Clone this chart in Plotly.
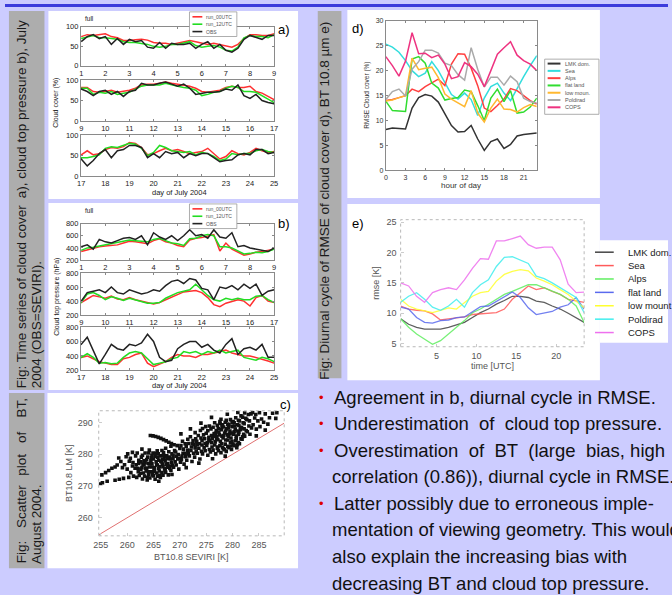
import plotly.graph_objects as go

W, H = 672, 595
FONT = "Liberation Sans, Arial, sans-serif"

# ---------------- data ----------------
# panel a/b: 6-hourly values, 1 July 00 UTC .. 25 July 00 UTC
days = [1 + 0.25 * i for i in range(97)]

cc_run00 = [75, 80, 78, 80, 82, 75, 72, 65, 65, 67, 68, 66, 60, 58, 58, 55, 58, 62, 65, 62, 58, 55, 58, 55, 52, 48, 55, 70, 80, 80, 78, 78, 82,
            82, 72, 70, 72, 75, 70, 72, 75, 80, 88, 90, 90, 92, 95, 92, 90, 88, 85, 80, 72, 70, 72, 75, 82, 85, 82, 82, 85, 72, 68, 60, 52,
            62, 52, 55, 65, 70, 68, 72, 82, 80, 70, 52, 55, 62, 68, 62, 65, 60, 55, 58, 60, 68, 55, 42, 48, 62, 55, 52, 58, 68, 62, 58, 60]
cc_run12 = [70, 75, 78, 72, 72, 70, 68, 62, 60, 60, 58, 55, 50, 48, 50, 55, 55, 58, 62, 52, 48, 50, 52, 48, 40, 38, 48, 72, 78, 75, 75, 72, 80,
            80, 65, 70, 68, 72, 65, 68, 70, 78, 85, 88, 88, 88, 92, 88, 85, 82, 80, 75, 62, 65, 70, 72, 80, 85, 82, 72, 72, 70, 62, 52, 45,
            45, 48, 52, 68, 72, 70, 75, 80, 78, 68, 50, 58, 75, 70, 62, 60, 58, 60, 52, 58, 55, 48, 38, 42, 55, 52, 55, 55, 62, 65, 60, 58]
cc_obs = [62, 75, 80, 70, 75, 55, 70, 55, 68, 62, 65, 48, 45, 60, 45, 58, 55, 55, 58, 45, 55, 62, 45, 55, 40, 35, 45, 68, 78, 72, 68, 78, 78,
          72, 62, 72, 75, 65, 72, 60, 72, 75, 92, 88, 88, 92, 95, 90, 85, 90, 80, 65, 68, 70, 70, 72, 78, 75, 88, 62, 55, 65, 50, 45, 42,
          25, 38, 55, 65, 45, 62, 65, 75, 75, 70, 45, 55, 45, 60, 55, 58, 45, 55, 50, 55, 55, 45, 35, 38, 40, 52, 55, 52, 65, 65, 55, 58]

ctp_run00 = [340, 370, 390, 420, 430, 440, 450, 480, 510, 500, 490, 470, 520, 550, 500, 480, 440, 420, 530, 560, 570, 600, 620, 350, 480, 380, 330, 280, 300, 330, 340, 360, 380,
             430, 480, 460, 440, 470, 430, 420, 450, 420, 400, 380, 360, 380, 420, 460, 500, 530, 540, 550, 520, 450, 350, 320, 370, 400, 420, 400, 330, 450, 480, 400, 380,
             400, 360, 320, 300, 280, 280, 360, 380, 420, 440, 300, 250, 280, 320, 380, 420, 400, 400, 380, 420, 420, 440, 460, 480, 440, 420, 400, 400, 380, 360, 330, 300]
ctp_run12 = [360, 400, 410, 430, 440, 460, 480, 500, 530, 520, 510, 500, 540, 560, 520, 480, 470, 440, 550, 560, 600, 620, 600, 420, 420, 400, 350, 300, 310, 330, 320, 340, 380,
             500, 520, 480, 420, 460, 440, 410, 440, 420, 400, 370, 370, 380, 440, 480, 520, 540, 560, 640, 560, 480, 420, 400, 440, 420, 440, 420, 420, 470, 480, 420, 380,
             430, 380, 300, 310, 290, 300, 380, 440, 460, 440, 360, 280, 300, 320, 360, 380, 460, 440, 460, 420, 460, 440, 480, 440, 460, 480, 380, 360, 340, 380, 360, 320]
ctp_obs = [420, 450, 380, 540, 500, 480, 520, 560, 570, 540, 600, 450, 650, 580, 540, 600, 520, 600, 700, 600, 620, 560, 700, 580, 560, 650, 420, 440, 400, 380, 350, 340, 400,
           520, 540, 560, 520, 600, 520, 500, 560, 530, 500, 520, 560, 540, 620, 680, 700, 650, 720, 700, 580, 560, 420, 600, 580, 620, 560, 640, 580, 640, 480, 540, 560,
           660, 480, 290, 420, 560, 500, 480, 560, 540, 580, 700, 600, 380, 320, 340, 500, 560, 600, 600, 520, 560, 480, 440, 560, 640, 420, 500, 520, 480, 560, 380, 380]

row_ranges = [[1, 9], [9, 17], [17, 25]]

# panel c: (BT10.8 SEVIRI [K], BT10.8 LM [K]) pairs
bt_pairs = [
    (254.9, 270.6), (255.3, 271.0), (256.2, 271.5), (257.7, 271.8), (258.5, 272.1), (259.3, 272.4), (260.3, 272.7),
    (255.2, 273.5), (255.9, 274.2), (256.5, 274.9), (257.1, 275.6), (257.7, 276.0),
    (258.1, 276.6), (258.4, 278.8), (258.8, 277.7), (259.1, 275.8), (259.5, 276.7), (259.8, 279.2),
    (260.0, 275.3), (260.4, 277.8), (260.1, 280.1), (260.7, 274.2), (261.0, 276.3), (260.6, 278.7), (261.0, 280.6),
    (261.2, 273.1), (261.5, 275.6), (261.1, 277.4), (261.6, 279.5),
    (261.8, 272.7), (262.1, 274.5), (261.7, 276.7), (262.2, 278.1), (261.9, 280.4),
    (262.3, 273.3), (262.6, 275.3), (262.2, 277.1), (262.7, 279.1), (262.8, 281.6),
    (262.9, 272.2), (263.1, 274.1), (262.8, 275.8), (263.2, 277.9), (262.9, 279.7),
    (263.3, 273.1), (263.6, 274.7), (263.2, 276.6), (263.7, 278.3), (263.4, 280.4),
    (263.8, 271.9), (264.1, 273.6), (263.7, 275.6), (264.0, 277.1), (263.9, 279.1),
    (264.3, 272.5), (264.6, 274.5), (264.2, 276.0), (264.5, 278.0), (264.7, 279.6), (264.2, 281.3), (264.4, 285.9),
    (264.8, 273.5), (265.1, 275.0), (264.7, 277.0), (265.0, 278.5), (264.9, 280.4), (264.9, 285.8),
    (265.3, 272.1), (265.6, 274.1), (265.2, 275.7), (265.5, 277.6), (265.3, 279.4), (265.7, 281.1), (265.4, 285.6),
    (265.8, 273.1), (266.1, 274.7), (265.7, 276.6), (266.0, 278.1), (265.9, 280.1), (265.9, 285.3),
    (266.0, 271.5), (266.3, 272.7), (266.6, 274.2), (266.2, 276.1), (266.5, 277.6), (266.3, 279.5), (266.6, 281.2), (266.4, 285.0),
    (266.8, 273.4), (267.1, 275.4), (266.7, 276.9), (267.0, 278.9), (266.9, 280.5), (266.9, 284.6),
    (267.3, 274.3), (267.6, 275.9), (267.2, 277.9), (267.5, 279.5), (267.3, 281.9), (267.4, 284.2),
    (267.8, 273.5), (268.1, 275.5), (267.7, 277.1), (268.0, 279.1), (267.9, 280.8), (267.9, 283.8),
    (268.3, 274.9), (268.6, 276.5), (268.2, 278.5), (268.5, 280.1), (268.3, 282.5), (268.4, 283.4), (268.5, 273.6),
    (268.8, 275.9), (269.1, 277.6), (268.7, 279.6), (269.0, 281.2), (268.9, 283.0),
    (269.3, 276.6), (269.6, 278.5), (269.2, 280.7), (269.5, 282.7),
    (269.8, 275.3), (270.1, 277.5), (269.7, 279.9), (270.0, 281.8), (270.2, 286.4),
    (270.3, 278.3), (270.6, 280.3), (270.2, 282.7), (270.5, 284.1),
    (270.8, 276.9), (271.1, 279.2), (270.7, 281.6), (271.0, 283.3), (271.2, 275.8),
    (271.3, 278.1), (271.6, 280.1), (271.2, 282.5), (271.5, 284.7),
    (271.8, 279.5), (272.1, 281.2), (271.7, 283.4), (272.0, 285.5), (272.0, 288.0),
    (272.3, 277.7), (272.6, 280.3), (272.2, 282.3), (272.5, 284.3),
    (272.8, 279.1), (273.1, 280.9), (272.7, 283.1), (273.0, 284.9), (272.9, 286.8),
    (273.3, 280.3), (273.6, 281.9), (273.2, 284.1), (273.5, 285.9), (273.6, 277.2),
    (273.8, 278.5), (274.1, 280.9), (273.7, 283.3), (274.0, 285.1), (273.9, 287.5), (274.0, 289.8),
    (274.3, 280.1), (274.6, 282.1), (274.2, 284.3), (274.5, 286.1), (274.3, 288.1),
    (274.8, 281.1), (275.1, 282.8), (274.7, 284.9), (275.0, 286.6), (274.9, 288.7),
    (275.3, 279.7), (275.6, 281.5), (275.2, 283.6), (275.5, 285.3), (275.3, 287.4), (275.6, 288.9),
    (275.8, 280.7), (276.1, 282.3), (275.7, 284.3), (276.0, 285.9), (275.9, 288.0), (276.0, 291.6), (276.2, 278.6),
    (276.3, 281.3), (276.6, 282.9), (276.2, 284.9), (276.5, 286.5), (276.3, 288.5), (276.6, 289.9),
    (276.8, 280.1), (277.1, 281.9), (276.7, 283.9), (277.0, 285.5), (276.9, 287.5), (277.1, 289.1),
    (277.3, 281.1), (277.6, 282.7), (277.2, 284.6), (277.5, 286.1), (277.3, 288.1), (277.6, 289.7),
    (277.8, 280.5), (278.1, 282.1), (277.7, 284.1), (278.0, 285.7), (277.9, 287.7), (278.1, 289.3), (277.8, 291.0),
    (278.3, 281.7), (278.6, 283.2), (278.2, 285.1), (278.5, 286.7), (278.3, 288.6), (278.6, 290.1), (278.6, 279.4),
    (278.8, 280.9), (279.1, 282.5), (278.7, 284.5), (279.0, 286.1), (278.9, 288.0), (279.1, 289.5), (279.0, 292.6),
    (279.3, 282.1), (279.6, 283.7), (279.2, 285.7), (279.5, 287.3), (279.3, 289.3), (279.6, 290.9),
    (279.8, 281.5), (280.1, 283.1), (279.7, 285.1), (280.0, 286.7), (279.9, 288.7), (280.1, 290.3),
    (280.3, 282.7), (280.6, 284.3), (280.2, 286.3), (280.5, 287.9), (280.3, 289.9), (280.6, 291.5),
    (280.8, 282.1), (281.1, 283.7), (280.7, 285.7), (281.0, 287.3), (280.9, 289.3), (281.1, 290.7), (281.0, 293.2),
    (281.3, 283.3), (281.6, 284.9), (281.2, 286.9), (281.5, 288.5), (281.3, 290.5), (281.6, 292.1),
    (281.8, 284.7), (282.1, 286.3), (281.7, 288.3), (282.0, 289.9), (281.9, 291.7),
    (282.3, 285.7), (282.6, 287.5), (282.2, 289.6), (282.5, 291.3), (282.3, 293.0),
    (282.8, 287.1), (283.1, 288.9), (282.7, 290.9), (283.0, 292.5),
    (283.3, 286.3), (283.6, 288.3), (283.2, 290.5), (283.5, 292.7),
    (283.9, 289.3), (284.2, 291.4), (283.8, 293.2), (284.5, 285.8),
    (284.5, 287.9), (284.8, 290.5), (284.4, 292.5),
    (285.2, 288.7), (285.5, 291.1), (285.1, 293.1),
    (285.9, 290.1), (286.2, 292.7), (286.2, 287.6),
    (286.7, 289.5), (287.0, 291.5), (287.6, 292.9), (288.2, 291.3), (288.4, 293.1),
    (262.5, 274.0), (263.0, 276.9), (263.5, 275.6), (264.0, 274.5), (264.4, 277.0), (264.8, 276.0), (265.2, 274.6),
    (265.6, 276.7), (266.0, 275.5), (266.4, 277.8), (266.8, 276.1), (267.2, 274.9), (267.6, 278.6), (268.0, 276.3),
    (268.4, 277.5), (263.4, 277.3), (264.6, 278.9), (265.8, 279.0), (266.9, 279.7), (265.0, 273.2), (266.2, 273.4),
    (263.9, 272.7), (267.4, 276.9), (268.7, 278.6), (269.3, 279.4), (262.0, 275.6), (262.6, 277.6), (264.1, 280.4),
    (265.4, 280.3), (266.7, 278.4),
    (276.0, 283.6), (276.5, 285.7), (277.0, 284.7), (277.4, 287.0), (277.9, 283.3), (278.3, 285.9), (278.7, 287.3),
    (279.1, 284.5), (279.5, 286.4), (279.9, 284.1), (280.3, 287.1), (280.7, 284.9), (281.1, 286.2), (281.5, 287.7),
    (281.9, 285.5), (278.0, 288.8), (279.2, 288.4), (280.4, 288.9), (281.2, 289.1), (277.2, 282.3), (278.5, 281.4),
    (279.7, 282.6), (280.9, 283.0), (275.5, 284.3), (274.8, 283.4), (276.8, 286.6), (282.2, 288.0), (279.9, 289.9),
    (278.8, 290.7), (277.6, 290.3),
    (270.4, 279.4), (271.5, 281.3), (272.4, 283.3), (273.3, 283.0), (272.9, 282.0), (271.0, 280.3), (269.9, 278.7),
    (274.2, 282.9),
]
bt_seviri = [p[0] for p in bt_pairs]
bt_lm = [p[1] for p in bt_pairs]
one_to_one = [254.6, 289.8]

# panel d: RMSE cloud cover (%) by hour of day
hours = list(range(24))
d_series = {
    "LMK dom.":  [8.2, 8.5, 8.4, 8.3, 12.5, 14.6, 15.2, 14.9, 13.7, 11.3, 9.0, 7.7, 7.8, 9.0, 6.3, 4.0, 5.8, 6.3, 4.4, 5.2, 6.9, 7.2, 7.3, 7.5],
    "Sea":       [25.3, 24.7, 23.7, 22.0, 20.0, 18.8, 19.5, 21.8, 20.0, 17.5, 15.2, 14.3, 15.5, 14.2, 11.0, 14.5, 16.8, 17.5, 15.5, 14.0, 16.5, 18.8, 21.0, 23.0],
    "Alps":      [14.0, 14.2, 14.6, 15.0, 16.3, 15.8, 16.8, 17.6, 18.3, 17.0, 21.3, 23.4, 23.3, 20.5, 17.0, 12.5, 11.8, 13.0, 14.3, 16.4, 16.0, 15.0, 14.0, 13.3],
    "flat land": [13.9, 12.0, 11.9, 11.8, 22.3, 22.8, 21.5, 17.5, 16.5, 14.1, 14.4, 14.6, 16.1, 15.8, 13.0, 10.0, 14.5, 16.3, 13.8, 16.0, 11.5, 11.7, 12.7, 14.5],
    "low moun.": [13.9, 14.1, 14.6, 15.0, 22.5, 20.2, 20.5, 20.7, 18.6, 15.3, 14.3, 13.5, 12.8, 16.0, 11.5, 9.7, 12.5, 14.3, 12.3, 12.2, 11.7, 12.6, 13.2, 12.8],
    "Poldirad":  [14.2, 15.8, 16.3, 14.9, 20.3, 21.8, 24.1, 24.1, 23.5, 21.5, 21.0, 19.2, 18.1, 24.6, 20.3, 16.7, 18.7, 18.7, 17.1, 18.9, 17.8, 14.5, 13.8, 13.5],
    "COPS":      [22.8, 21.0, 18.9, 21.9, 27.6, 23.4, 23.5, 22.6, 23.1, 21.3, 18.4, 18.8, 21.6, 20.8, 19.3, 16.8, 20.0, 23.3, 24.6, 25.8, 23.1, 22.0, 21.3, 20.0],
}
d_colors = ["#333333", "#33dddd", "#ff4040", "#30dd30", "#ffb830", "#aaaaaa", "#ee3380"]

# panel e: rmse BT 10.8 [K] by time (UTC)
times_utc = [0.5 + i for i in range(24)]
e_series = {
    "LMK dom.":  [9.1, 8.2, 7.7, 7.4, 7.4, 7.4, 7.7, 8.1, 8.5, 9.3, 10.1, 10.7, 11.5, 12.1, 12.8, 12.8, 12.6, 12.0, 11.8, 11.2, 10.7, 10.0, 9.3, 8.5],
    "Sea":       [11.2, 10.7, 10.5, 10.4, 9.9, 8.9, 9.1, 9.3, 9.4, 9.8, 9.9, 9.9, 10.1, 10.7, 12.3, 13.4, 14.5, 13.9, 14.2, 13.6, 13.1, 12.3, 12.0, 11.8],
    "Alps":      [9.1, 7.7, 6.6, 5.8, 4.9, 5.5, 6.6, 7.7, 8.8, 10.1, 10.7, 11.5, 12.3, 13.1, 13.6, 14.2, 14.7, 14.7, 14.2, 13.6, 13.1, 12.3, 11.2, 8.5],
    "flat land": [11.0, 10.7, 9.3, 8.5, 8.4, 8.8, 8.9, 9.3, 9.4, 10.3, 11.1, 11.2, 12.0, 12.8, 13.5, 12.6, 10.9, 9.8, 10.1, 10.3, 11.0, 11.4, 12.6, 10.7],
    "low mount": [12.3, 11.2, 10.7, 10.4, 10.1, 10.5, 10.9, 10.7, 11.8, 12.8, 13.4, 13.6, 15.3, 16.4, 16.9, 17.2, 17.0, 15.8, 15.3, 14.7, 13.9, 13.1, 12.0, 10.9],
    "Poldirad":  [11.8, 12.8, 13.4, 12.3, 11.0, 10.5, 11.2, 12.3, 11.0, 13.4, 14.7, 15.5, 17.7, 19.2, 19.3, 18.8, 18.2, 16.1, 15.7, 15.0, 14.2, 13.4, 12.6, 10.1],
    "COPS":      [15.0, 14.5, 12.8, 11.8, 13.4, 13.9, 14.2, 13.9, 15.5, 17.4, 19.0, 18.9, 21.9, 21.9, 22.3, 22.7, 21.3, 20.7, 20.9, 20.9, 18.8, 14.8, 13.4, 13.5],
}
e_colors = ["#444444", "#ff5a5a", "#60ee60", "#5a6aee", "#ffff30", "#40eeee", "#ee70ee"]

bullets = [
    (400, True, "Agreement in b, diurnal cycle in RMSE."),
    (426, True, "Underestimation\u00a0 of\u00a0 cloud top pressure."),
    (453, True, "Overestimation\u00a0 of\u00a0 BT\u00a0 (large\u00a0 bias, high"),
    (480, False, "correlation (0.86)), diurnal cycle in RMSE."),
    (507, True, "Latter possibly due to erroneous imple-"),
    (534, False, "mentation of viewing geometry. This would"),
    (561, False, "also explain the increasing bias with"),
    (588, False, "decreasing BT and cloud top pressure."),
]

# ---------------- helpers ----------------
def X(px):
    return px / W

def Y(py):
    return 1 - py / H

fig = go.Figure()
layout = dict(width=W, height=H, margin=dict(l=0, r=0, t=0, b=0),
              paper_bgcolor="#ccccff", plot_bgcolor="rgba(0,0,0,0)",
              showlegend=False, font=dict(family=FONT))
shapes, annots = [], []

def rect(x0, y0, x1, y1, fill, line=None, layer="below"):
    shapes.append(dict(type="rect", xref="paper", yref="paper", x0=X(x0), x1=X(x1), y0=Y(y1), y1=Y(y0),
                       fillcolor=fill, line=dict(width=0.8 if line else 0, color=line or fill), layer=layer))

def seg(x0, x1, y, color, width):
    shapes.append(dict(type="line", xref="paper", yref="paper", x0=X(x0), x1=X(x1), y0=Y(y), y1=Y(y),
                       line=dict(color=color, width=width), layer="above"))

def txt(x, y, s, size, color="#111111", xa="center", ya="middle", angle=0):
    annots.append(dict(x=X(x), y=Y(y), xref="paper", yref="paper", text=s, showarrow=False,
                       xanchor=xa, yanchor=ya, textangle=angle, borderpad=0,
                       font=dict(size=size, color=color, family=FONT)))

def axes(k, box, xr, yr, xt, yt, fs, tc, solid=True, standoff=None):
    x0, y0, x1, y1 = box
    sfx = "" if k == 1 else str(k)
    common = dict(showgrid=False, zeroline=False, ticks="inside", ticklen=2, tickcolor="#888888",
                  tickfont=dict(size=fs, color=tc, family=FONT), ticklabeloverflow="allow")
    if solid:
        common.update(showline=True, linecolor="#8a8a8a", linewidth=1, mirror="ticks")
    else:
        common.update(showline=False, tickcolor="#cccccc", ticklen=3)
    xa = dict(common, domain=[X(x0), X(x1)], range=xr, tickvals=xt, anchor="y" + sfx)
    ya = dict(common, domain=[Y(y1), Y(y0)], range=yr, tickvals=yt, anchor="x" + sfx)
    if standoff is not None:
        xa["ticklabelstandoff"] = standoff[0]
        ya["ticklabelstandoff"] = standoff[1]
    layout["xaxis" + sfx] = xa
    layout["yaxis" + sfx] = ya
    if not solid:
        shapes.append(dict(type="rect", xref=f"x{sfx} domain", yref=f"y{sfx} domain", x0=0, x1=1, y0=0, y1=1,
                           line=dict(color="#b8b8b8", width=1, dash="dot"), layer="above"))
    return "x" + sfx, "y" + sfx

# ---------------- backgrounds ----------------
rect(0, 0, 672, 3, "#3c3cdc")
rect(4, 7, 40, 392, "#adadad")
rect(4, 395, 40, 573, "#adadad")
rect(317, 7, 341, 380, "#adadad")
rect(44, 7, 297, 198, "white")
rect(44, 202, 297, 392, "white")
rect(43, 395, 297, 573, "white")
rect(347, 6, 603, 197, "white")
rect(347, 203, 603, 382, "white")
rect(603, 240, 672, 344, "white")

# ---------------- panels a, b ----------------
ab_colors = {"run_00UTC": "#ff3030", "run_12UTC": "#22dd22", "OBS": "#222222"}
a_boxes = [(77, 23, 273, 63), (77, 77, 273, 119), (77, 133, 273, 175)]
b_boxes = [(77, 223, 273, 260), (77, 273, 273, 316), (77, 328, 273, 372)]
k = 1
for boxes, yr, yt, data in [(a_boxes, [0, 100], [0, 50, 100], [cc_run00, cc_run12, cc_obs]),
                            (b_boxes, [200, 800], [200, 400, 600, 800], [ctp_run00, ctp_run12, ctp_obs])]:
    for r, box in enumerate(boxes):
        xr = row_ranges[r]
        xa, ya = axes(k, box, [xr[0] - 0.01, xr[1] + 0.01], [yr[0] - 0.5, yr[1] + 0.5],
                      list(range(xr[0], xr[1] + 1)), yt, 7.5, "#222222")
        for name, vals in zip(ab_colors, data):
            fig.add_trace(go.Scatter(x=days, y=vals, mode="lines", xaxis=xa, yaxis=ya,
                                     line=dict(color=ab_colors[name], width=1.5), cliponaxis=True))
        k += 1

for top, lab, ytitle, yc in [(0, "a)", "Cloud cover (%)", 100), (195, "b)", "Cloud top pressure (hPa)", 297)]:
    txt(80, top + 15, "full", 6.5, "#222222", xa="left")
    txt(283, top + 26 if top == 0 else top + 28, lab, 13, "#000000", xa="center")
    txt(177, top + 191 if top == 0 else 387, "day of July 2004", 7.5, "#222222")
    txt(52, yc, ytitle, 7, "#222222", angle=-90)
    ly = 8 if top == 0 else 203
    rect(187, ly, 235, ly + 25, "white", line="#999999", layer="above")
    for i, name in enumerate(ab_colors):
        yy = ly + 5 + i * 7.5
        seg(190, 200, yy, ab_colors[name], 1.6)
        txt(203, yy, name, 5, "#555555", xa="left")

# ---------------- panel c ----------------
xa, ya = axes(7, (95, 413, 283, 540), [254.6, 289.8], [254.3, 293.7],
              [255, 260, 265, 270, 275, 280, 285], [260, 270, 280, 290], 9, "#555555", solid=False, standoff=(2, 5))
fig.add_trace(go.Scatter(x=one_to_one, y=one_to_one, mode="lines", xaxis=xa, yaxis=ya,
                         line=dict(color="#e07070", width=1)))
fig.add_trace(go.Scatter(x=bt_seviri, y=bt_lm, mode="markers", xaxis=xa, yaxis=ya,
                         marker=dict(symbol="square", size=3.6, color="#111111", line=dict(width=0))))
txt(189, 562, "BT10.8 SEVIRI [K]", 9, "#555555")
txt(65, 476, "BT10.8 LM [K]", 9, "#555555", angle=-90)
txt(284, 407, "c)", 13, "#000000")

# ---------------- panel d ----------------
xa, ya = axes(8, (386, 17, 539, 169), [0, 23], [0, 30], [0, 3, 6, 9, 12, 15, 18, 21],
              [0, 5, 10, 15, 20, 25, 30], 7, "#333333")
for (name, vals), col in zip(d_series.items(), d_colors):
    fig.add_trace(go.Scatter(x=hours, y=vals, mode="lines", xaxis=xa, yaxis=ya, line=dict(color=col, width=1.5)))
txt(462, 184, "hour of day", 8, "#333333")
txt(366, 93, "RMSE Cloud cover (%)", 6.5, "#333333", angle=-90)
txt(358, 25, "d)", 13, "#000000")
rect(547, 56, 602, 112, "white", line="#999999", layer="above")
for i, name in enumerate(d_series):
    yy = 60.5 + i * 7.4
    seg(550, 563, yy, d_colors[i], 2)
    txt(567, yy, name, 5.5, "#555555", xa="left")

# ---------------- panel e ----------------
xa, ya = axes(9, (401, 219, 587, 348), [0.5, 23.5], [4.5, 25.4], [5, 10, 15, 20],
              [5, 10, 15, 20, 25], 9, "#555555", solid=False, standoff=(2, 3))
for (name, vals), col in zip(e_series.items(), e_colors):
    fig.add_trace(go.Scatter(x=times_utc, y=vals, mode="lines", xaxis=xa, yaxis=ya,
                             line=dict(color=col, width=1.3), opacity=0.85))
txt(494, 368, "time [UTC]", 9, "#555555")
txt(376, 283, "rmse [K]", 9, "#555555", angle=-90)
txt(358, 223, "e)", 13, "#000000")
for i, name in enumerate(e_series):
    yy = 252 + i * 13.6
    seg(598, 617, yy, e_colors[i], 1.5)
    txt(630, yy, name, 9.5, "#222222", xa="left")

# ---------------- captions ----------------
CAP = 13.5
txt(17, 297, "Fig: Time series of cloud cover", CAP, "#1a1a1a", angle=-90)
txt(17, 107, "a), cloud top pressure b), July", CAP, "#1a1a1a", angle=-90)
txt(32, 391, "2004 (OBS=SEVIRI).", CAP, "#1a1a1a", ya="bottom", angle=-90)
for word, yc in [("Fig:", 556), ("Scatter", 510), ("plot", 468), ("of", 440), ("BT,", 410)]:
    txt(17, yc, word, CAP, "#1a1a1a", angle=-90)
txt(32, 570, "August 2004.", CAP, "#1a1a1a", ya="bottom", angle=-90)
txt(324, 200, "Fig: Diurnal cycle of RMSE of cloud cover d), BT 10.8 \u00b5m e)", CAP, "#1a1a1a", angle=-90)

# ---------------- bullet text ----------------
for yy, has_bullet, line in bullets:
    if has_bullet:
        txt(321, yy, "\u2022", 13, "#dd0000")
        txt(332, yy, line, 18.5, "#111111", xa="left")
    else:
        txt(330, yy, line, 18.5, "#111111", xa="left")

layout["shapes"] = shapes
layout["annotations"] = annots
fig.update_layout(**layout)
fig.write_html("out.html", config={"displayModeBar": False},
               post_script="document.body.style.margin='0px';document.body.style.overflow='hidden';")
